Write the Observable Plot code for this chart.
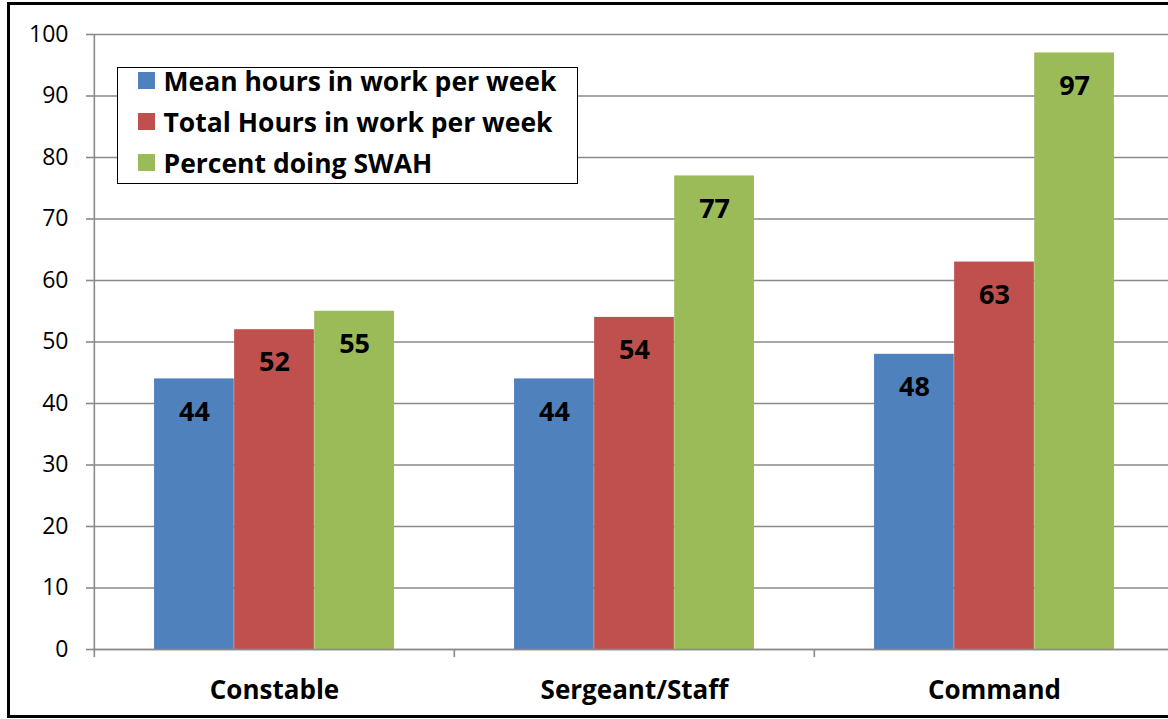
<!DOCTYPE html>
<html>
<head>
<meta charset="utf-8">
<script src="https://cdn.jsdelivr.net/npm/d3@7"></script>
<script src="https://cdn.jsdelivr.net/npm/@observablehq/plot@0.6"></script>
<style>
  html, body { margin: 0; padding: 0; background: #fff; overflow: hidden; width: 1168px; height: 719px; }
  #wrap { position: relative; width: 1168px; height: 719px; font-family: "Open Sans", sans-serif; overflow: hidden; }
  #border { position: absolute; left: 7px; top: 2px; width: 1220px; height: 716px; border: 3px solid #000; box-sizing: border-box; pointer-events: none; }
  #chart { position: absolute; left: 0; top: 0; }
  #chart svg { max-width: none !important; }
  #legend { position: absolute; left: 117px; top: 67px; width: 461px; height: 117px; border: 1.5px solid #000; box-sizing: border-box; background: #fff; }
  .row { position: absolute; left: 19.5px; display: flex; align-items: center; height: 26px; font-weight: bold; font-size: 26.5px; color: #000; white-space: nowrap; }
  .sw { width: 17px; height: 17px; margin-right: 9px; flex: none; }
</style>
</head>
<body>
<div id="wrap">
  <div id="chart"></div>
  <div id="legend"></div>
  <div id="border"></div>
</div>
<script>
const categories = ["Constable", "Sergeant/Staff", "Command"];
const seriesNames = ["Mean hours in work per week", "Total Hours in work per week", "Percent doing SWAH"];
const meanHours = [44, 44, 48];
const totalHours = [52, 54, 63];
const percentSWAH = [55, 77, 97];
const yTicks = [0, 10, 20, 30, 40, 50, 60, 70, 80, 90, 100];
const colors = ["#4F81BD", "#C0504D", "#9BBB59"];

const seriesValues = [meanHours, totalHours, percentSWAH];
const rows = [];
seriesNames.forEach((s, i) => categories.forEach((c, j) => rows.push({category: c, series: s, si: i, value: seriesValues[i][j]})));

const W = 1190, H = 719, mL = 93, mR = 16, mT = 34, mB = 70;
const bw = (W - mL - mR) / categories.length;
const barW = bw * 2 / 9;
const padOuter = bw / 6;
const gray = "#8a8a8a";
const font = "'Open Sans', sans-serif";

const marks = [
  Plot.gridY(yTicks, {stroke: gray, strokeOpacity: 1, strokeWidth: 1.6}),
  Plot.ruleX([categories[0]], {dx: -bw / 2, stroke: gray, strokeWidth: 1.6}),
  Plot.axisY(yTicks, {label: null, tickSize: 7, tickPadding: 18, fontSize: 23, stroke: gray, strokeWidth: 1.6, fill: "#000", tickFormat: d => String(d)}),
  Plot.axisX({label: null, tickSize: 8, tickFormat: () => "", dx: -bw / 2, stroke: gray, strokeWidth: 1.6}),
  Plot.axisX({label: null, tickSize: 0, tickPadding: 31, fontSize: 26, fontWeight: "bold", fill: "#000"})
];
seriesNames.forEach((s, i) => {
  const data = rows.filter(r => r.si === i);
  marks.push(Plot.barY(data, {x: "category", y: "value", fill: colors[i], insetLeft: padOuter + i * barW, insetRight: padOuter + (2 - i) * barW}));
});
marks.push(Plot.ruleY([0], {stroke: gray, strokeWidth: 1.6}));
seriesNames.forEach((s, i) => {
  const data = rows.filter(r => r.si === i);
  marks.push(Plot.text(data, {x: "category", y: "value", text: d => String(d.value), dx: (i - 1) * barW, dy: 33, fontSize: 27, fontWeight: "bold", fill: "#000"}));
});

const chart = Plot.plot({
  width: W, height: H,
  marginLeft: mL, marginRight: mR, marginTop: mT, marginBottom: mB,
  style: {fontFamily: font, color: "#000", background: "transparent", overflow: "visible", maxWidth: "none"},
  x: {domain: categories, padding: 0, axis: null},
  y: {domain: [0, 100], axis: null},
  marks
});
document.getElementById("chart").appendChild(chart);

const legend = document.getElementById("legend");
seriesNames.forEach((s, i) => {
  const row = document.createElement("div");
  row.className = "row";
  row.style.top = (-0.5 + 41 * i) + "px";
  const sw = document.createElement("div");
  sw.className = "sw";
  sw.style.background = colors[i];
  const t = document.createElement("span");
  t.textContent = s;
  row.appendChild(sw);
  row.appendChild(t);
  legend.appendChild(row);
});
</script>
</body>
</html>
